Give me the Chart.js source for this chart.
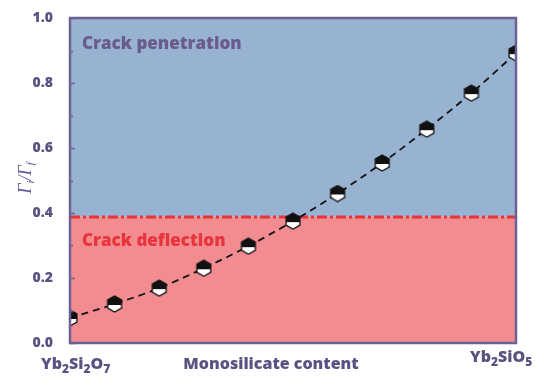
<!DOCTYPE html>
<html><head><meta charset="utf-8">
<script src="https://cdn.jsdelivr.net/npm/chart.js@4/dist/chart.umd.min.js"></script>
<style>html,body{margin:0;padding:0;background:#fff}#wrap{width:553px;height:376px}</style>
</head><body><div id="wrap"><canvas id="c" width="553" height="376"></canvas></div>
<script>
const contentFraction = [0, 0.1, 0.2, 0.3, 0.4, 0.5, 0.6, 0.7, 0.8, 0.9, 1.0];
const ratioValues = [0.077, 0.12, 0.169, 0.23, 0.298, 0.375, 0.46, 0.554, 0.658, 0.769, 0.892];
const thresholdValue = 0.388;
const yTickValues = [0, 0.2, 0.4, 0.6, 0.8, 1.0];
const regionLabels = ['Crack penetration', 'Crack deflection'];
const xAxisTitle = 'Monosilicate content';

const FONT = '"Open Sans", "DejaVu Sans", sans-serif';
const W = '800';
const AXIS_COLOR = '#6c6194';
const TEXT_COLOR = '#5b5282';

// hexagon marker: top half black, bottom half white
function makeHex() {
  const c = document.createElement('canvas');
  c.width = 18; c.height = 18;
  const g = c.getContext('2d');
  const cx = 9, cy = 9, r = 8;
  const pts = [];
  for (let i = 0; i < 6; i++) {
    const a = -Math.PI / 2 + i * Math.PI / 3;
    pts.push([cx + r * Math.cos(a), cy + r * Math.sin(a)]);
  }
  g.beginPath();
  pts.forEach((p, i) => i ? g.lineTo(p[0], p[1]) : g.moveTo(p[0], p[1]));
  g.closePath();
  g.fillStyle = '#fff'; g.fill();
  g.save(); g.clip();
  g.fillStyle = '#111'; g.fillRect(0, 0, 18, cy + 1);
  g.restore();
  g.lineWidth = 1.3; g.strokeStyle = '#111'; g.stroke();
  return c;
}
const hexImg = makeHex();

const bgPlugin = {
  id: 'regions',
  beforeDatasetsDraw(chart) {
    const { ctx, chartArea: a, scales: { y } } = chart;
    const ty = y.getPixelForValue(thresholdValue);
    ctx.save();
    ctx.fillStyle = '#98b3d2';
    ctx.fillRect(a.left, a.top, a.right - a.left, ty - a.top);
    ctx.fillStyle = '#f28c91';
    ctx.fillRect(a.left, ty, a.right - a.left, a.bottom - ty);
    // threshold dash-dot line
    ctx.strokeStyle = '#e5353b';
    ctx.lineWidth = 3;
    ctx.setLineDash([10, 3, 3, 3]);
    ctx.beginPath(); ctx.moveTo(a.left, ty); ctx.lineTo(a.right, ty); ctx.stroke();
    ctx.setLineDash([]);
    // region labels
    ctx.font = W + ' 17px ' + FONT;
    ctx.textBaseline = 'middle';
    ctx.fillStyle = '#6a5b8f';
    ctx.fillText(regionLabels[0], a.left + 12, y.getPixelForValue(0.918));
    ctx.fillStyle = '#e8343a';
    ctx.fillText(regionLabels[1], a.left + 12, y.getPixelForValue(0.312));
    ctx.restore();
  },
  afterDatasetsDraw(chart) {
    const { ctx, chartArea: a, scales: { y } } = chart;
    ctx.save();
    // ticks (inside)
    ctx.strokeStyle = AXIS_COLOR;
    ctx.lineWidth = 1.5;
    for (let v = 0; v <= 1.0001; v += 0.1) {
      const py = Math.round(y.getPixelForValue(v)) + 0.5;
      const major = Math.round(v * 10) % 2 === 0;
      ctx.beginPath(); ctx.moveTo(a.left, py); ctx.lineTo(a.left + (major ? 5 : 3), py); ctx.stroke();
    }
    // frame
    ctx.lineWidth = 2.5;
    ctx.strokeRect(a.left, a.top, a.right - a.left, a.bottom - a.top);
    // y title  Γi/Γf
    ctx.translate(26, 178);
    ctx.rotate(-Math.PI / 2);
    ctx.fillStyle = '#5d5a9e';
    ctx.textBaseline = 'alphabetic';
    const parts = [['Γ', 18, 0], ['i', 11, 3], ['/', 18, 0], ['Γ', 18, 0], ['f', 11, 3]];
    let w = 0;
    parts.forEach(p => { ctx.font = 'italic ' + p[1] + 'px "Liberation Serif", serif'; w += ctx.measureText(p[0]).width; });
    let x = -w / 2;
    parts.forEach(p => {
      ctx.font = 'italic ' + p[1] + 'px "Liberation Serif", serif';
      ctx.fillText(p[0], x, 5 + p[2]);
      x += ctx.measureText(p[0]).width;
    });
    ctx.restore();
    // x labels
    ctx.save();
    ctx.fillStyle = TEXT_COLOR;
    ctx.textBaseline = 'alphabetic';
    function chem(parts, x0, base) {
      let x = x0;
      parts.forEach(p => {
        const sub = p[1];
        ctx.font = W + ' ' + (sub ? 12 : 16) + 'px ' + FONT;
        ctx.fillText(p[0], x, base + (sub ? 4 : 0));
        x += ctx.measureText(p[0]).width;
      });
    }
    chem([['Yb', 0], ['2', 1], ['Si', 0], ['2', 1], ['O', 0], ['7', 1]], 41, 369);
    chem([['Yb', 0], ['2', 1], ['SiO', 0], ['5', 1]], 470, 362);
    ctx.font = W + ' 16px ' + FONT;
    ctx.textAlign = 'center';
    ctx.fillText(xAxisTitle, 271, 369);
    ctx.restore();
  }
};

new Chart(document.getElementById('c'), {
  type: 'line',
  data: {
    datasets: [
      {
        data: contentFraction.map((x, i) => ({ x, y: ratioValues[i] })),
        borderColor: '#111', borderWidth: 1.8, borderDash: [7, 5],
        cubicInterpolationMode: 'monotone', pointRadius: 0, clip: 0, order: 2
      },
      {
        data: contentFraction.map((x, i) => ({ x, y: ratioValues[i] })),
        showLine: false, pointStyle: hexImg, pointRadius: 8, clip: 0, order: 1
      }
    ]
  },
  options: {
    responsive: false, animation: false, devicePixelRatio: 1,
    layout: { padding: { top: 18, bottom: 33, right: 37, left: 0 } },
    plugins: { legend: { display: false }, tooltip: { enabled: false } },
    scales: {
      x: { type: 'linear', min: 0, max: 1, display: false },
      y: {
        min: 0, max: 1,
        afterFit(s) { s.width = 70; },
        afterBuildTicks(s) { s.ticks = yTickValues.map(v => ({ value: v })); },
        grid: { display: false }, border: { display: false },
        ticks: {
          padding: 9, color: TEXT_COLOR,
          font: { family: FONT, size: 14, weight: W },
          callback: v => Number(v).toFixed(1)
        }
      }
    }
  },
  plugins: [bgPlugin]
});
</script></body></html>
